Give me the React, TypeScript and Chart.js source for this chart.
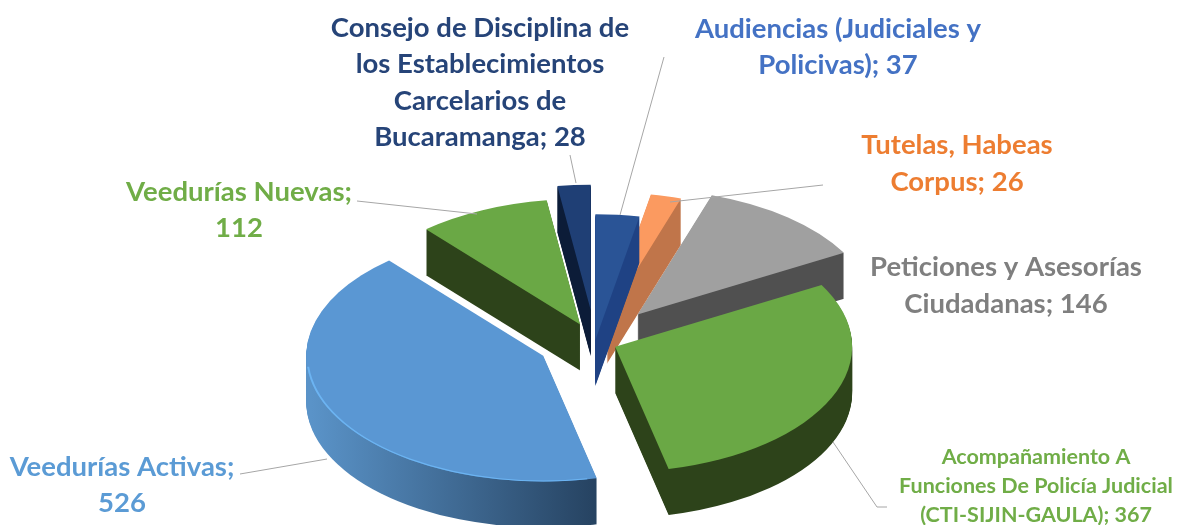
import React, { useEffect, useRef } from "react";
import { Chart, registerables } from "chart.js";

Chart.register(...registerables);

const categories = [
  "Audiencias (Judiciales y Policivas)",
  "Tutelas, Habeas Corpus",
  "Peticiones y Asesorías Ciudadanas",
  "Acompañamiento A Funciones De Policía Judicial (CTI-SIJIN-GAULA)",
  "Veedurías Activas",
  "Veedurías Nuevas",
  "Consejo de Disciplina de los Establecimientos Carcelarios de Bucaramanga",
];
const values = [37, 26, 146, 367, 526, 112, 28];
const topColors = ["#2a5496", "#fb9a60", "#a0a0a0", "#6aa845", "#5a97d3", "#6aa845", "#1f3f75"];
const sideLeft = ["#1f4284", "#c0754a", "#505050", "#2d431a", "#5a93c8", "#2d431a", "#0c1c38"];
const sideRight = ["#1f4284", "#c0754a", "#505050", "#2d431a", "#25415f", "#2d431a", "#0c1c38"];
const rimColors = [null, null, null, null, "#6cb4f2", null, null];
const explode = [4, 47, 67, 22, 58, 36, 60];
const drawOrder = [2, 1, 0, 6, 5, 3, 4];

type Lbl = { lines: string[]; color: string; x: number; y: number; size: number; lh: number };
const labels: Lbl[] = [
  { lines: ["Consejo de Disciplina de", "los Establecimientos", "Carcelarios de", "Bucaramanga; 28"], color: "#264478", x: 480, y: 28, size: 27.5, lh: 36.5 },
  { lines: ["Audiencias (Judiciales y", "Policivas); 37"], color: "#4472c4", x: 838, y: 29, size: 27.5, lh: 36.5 },
  { lines: ["Tutelas, Habeas", "Corpus; 26"], color: "#ed7d31", x: 957, y: 145, size: 27.5, lh: 37 },
  { lines: ["Peticiones y Asesorías", "Ciudadanas; 146"], color: "#7f7f7f", x: 1006, y: 267, size: 27.5, lh: 37 },
  { lines: ["Veedurías Nuevas;", "112"], color: "#70ad47", x: 239, y: 192, size: 27.5, lh: 36 },
  { lines: ["Veedurías Activas;", "526"], color: "#5b9bd5", x: 122, y: 467, size: 27.5, lh: 36 },
  { lines: ["Acompañamiento A", "Funciones De Policía Judicial", "(CTI-SIJIN-GAULA); 367"], color: "#70ad47", x: 1036, y: 457, size: 21.5, lh: 29 },
];
const leaders: number[][][] = [
  [[664, 57], [620, 215]],
  [[823, 185], [670, 202]],
  [[357, 201], [477, 214]],
  [[240, 474], [327, 459]],
  [[833, 442], [877, 507], [887, 507]],
  [[570, 155], [576, 183]],
];

const CX = 595;
const CY = 342;
const SQUASH = 0.53;
const DEPTH = 46;

const pie3d = {
  id: "pie3d",
  beforeDatasetDraw(chart: any) {
    const ctx: CanvasRenderingContext2D = chart.ctx;
    const meta = chart.getDatasetMeta(0);
    for (const i of drawOrder) {
      const arc = meta.data[i];
      const mid = (arc.startAngle + arc.endAngle) / 2;
      const ex = Math.cos(mid) * explode[i];
      const ey = Math.sin(mid) * explode[i];
      const r = arc.outerRadius;
      const place = (d: number) => {
        ctx.setTransform(1, 0, 0, SQUASH, CX - arc.x + ex, CY + d + (ey - arc.y) * SQUASH);
      };
      const grad = ctx.createLinearGradient(CX - 290 - ex, 0, CX - ex, 0);
      grad.addColorStop(0, sideLeft[i]);
      grad.addColorStop(1, sideRight[i]);
      for (let d = DEPTH; d >= 1; d--) {
        place(d);
        ctx.beginPath();
        ctx.moveTo(arc.x, arc.y);
        ctx.arc(arc.x, arc.y, r, arc.startAngle, arc.endAngle);
        ctx.closePath();
        ctx.fillStyle = grad;
        ctx.fill();
      }
      place(0);
      arc.draw(ctx);
      if (rimColors[i]) {
        ctx.beginPath();
        ctx.arc(arc.x, arc.y, r - 1, arc.startAngle + 0.04, arc.endAngle - 0.95);
        ctx.strokeStyle = rimColors[i] as string;
        ctx.lineWidth = 2;
        ctx.stroke();
      }
      ctx.setTransform(1, 0, 0, 1, 0, 0);
    }
    return false;
  },
  afterDraw(chart: any) {
    const ctx: CanvasRenderingContext2D = chart.ctx;
    ctx.save();
    ctx.strokeStyle = "#a6a6a6";
    ctx.lineWidth = 1;
    for (const pts of leaders) {
      ctx.beginPath();
      pts.forEach((p, k) => (k ? ctx.lineTo(p[0], p[1]) : ctx.moveTo(p[0], p[1])));
      ctx.stroke();
    }
    ctx.textAlign = "center";
    ctx.textBaseline = "middle";
    for (const l of labels) {
      ctx.font = `bold ${l.size}px Lato`;
      ctx.fillStyle = l.color;
      l.lines.forEach((t, k) => ctx.fillText(t, l.x, l.y + k * l.lh));
    }
    ctx.restore();
  },
};

export default function App() {
  const ref = useRef<HTMLCanvasElement>(null);
  useEffect(() => {
    const chart = new Chart(ref.current!, {
      type: "pie",
      data: {
        labels: categories,
        datasets: [{ data: values, backgroundColor: topColors, borderWidth: 0 }],
      },
      options: {
        responsive: false,
        animation: false,
        rotation: 0,
        radius: 237,
        layout: { padding: 0 },
        plugins: { legend: { display: false }, tooltip: { enabled: false } },
      },
      plugins: [pie3d],
    } as any);
    return () => chart.destroy();
  }, []);
  return <canvas ref={ref} width={1177} height={525} style={{ position: "absolute", left: 0, top: 0, display: "block", filter: "blur(0.4px)" }} />;
}
